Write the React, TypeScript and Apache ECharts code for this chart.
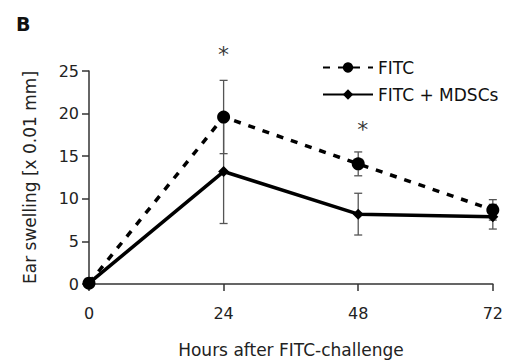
import React, { useEffect, useRef } from "react";
import * as echarts from "echarts";

const hours = [0, 24, 48, 72];
const fitcMean = [0.1, 19.6, 14.1, 8.7];
const fitcErr = [0, 4.3, 1.4, 1.2];
const mdscMean = [0.1, 13.2, 8.2, 7.9];
const mdscErr = [0, 6.1, 2.45, 1.45];
const starPoints = [[24, 27.2], [48.8, 18.4]];
const yTicks = { min: 0, max: 25, interval: 5 };
const xTicks = { min: 0, max: 72, interval: 24 };

const FONT = "'DejaVu Sans', 'Open Sans', sans-serif";

export default function App() {
  const ref = useRef<HTMLDivElement>(null);
  useEffect(() => {
    if (!ref.current) return;
    const chart = echarts.init(ref.current, undefined, { renderer: "svg" });
    const errData = (means: number[], errs: number[]) =>
      hours
        .map((h, i) => [h, means[i] - errs[i], means[i] + errs[i]])
        .filter((_, i) => errs[i] > 0);
    const errSeries = (name: string, means: number[], errs: number[]) => ({
      type: "custom",
      name,
      z: 1,
      silent: true,
      data: errData(means, errs),
      encode: { x: 0, y: [1, 2] },
      renderItem: (params: any, api: any) => {
        const x = api.value(0);
        const lo = api.coord([x, api.value(1)]);
        const hi = api.coord([x, api.value(2)]);
        const w = 4;
        const style = { stroke: "#555", lineWidth: 1.3 };
        return {
          type: "group",
          children: [
            { type: "line", shape: { x1: hi[0], y1: hi[1], x2: lo[0], y2: lo[1] }, style },
            { type: "line", shape: { x1: hi[0] - w, y1: hi[1], x2: hi[0] + w, y2: hi[1] }, style },
            { type: "line", shape: { x1: lo[0] - w, y1: lo[1], x2: lo[0] + w, y2: lo[1] }, style },
          ],
        };
      },
    });
    chart.setOption({
      animation: false,
      backgroundColor: "#fff",
      textStyle: { fontFamily: FONT },
      title: {
        text: "B",
        left: 11,
        top: 9,
        textStyle: { fontFamily: FONT, fontSize: 19, fontWeight: "bold", color: "#111" },
      },
      grid: { left: 89, right: 13, top: 71, bottom: 75, containLabel: false },
      legend: {
        orient: "vertical",
        left: 317,
        top: 54,
        itemWidth: 50,
        itemHeight: 13,
        itemGap: 10,
        data: ["FITC", "FITC + MDSCs"],
        textStyle: { fontFamily: FONT, fontSize: 17, color: "#111" },
      },
      xAxis: {
        type: "value",
        min: xTicks.min,
        max: xTicks.max,
        interval: xTicks.interval,
        name: "Hours after FITC-challenge",
        nameLocation: "middle",
        nameGap: 57,
        nameTextStyle: { fontFamily: FONT, fontSize: 17, color: "#222" },
        splitLine: { show: false },
        axisLine: { lineStyle: { color: "#333", width: 1.5 } },
        axisTick: { show: true, length: 7, lineStyle: { color: "#333", width: 1.5 } },
        axisLabel: { fontFamily: FONT, fontSize: 16, color: "#222", margin: 21 },
      },
      yAxis: {
        type: "value",
        min: yTicks.min,
        max: yTicks.max,
        interval: yTicks.interval,
        name: "Ear swelling [x 0.01 mm]",
        nameLocation: "middle",
        nameGap: 51,
        nameTextStyle: { fontFamily: FONT, fontSize: 17, color: "#222" },
        splitLine: { show: false },
        axisLine: { show: true, lineStyle: { color: "#333", width: 1.5 } },
        axisTick: { show: true, length: 7, lineStyle: { color: "#333", width: 1.5 } },
        axisLabel: { fontFamily: FONT, fontSize: 16, color: "#222", margin: 10 },
      },
      series: [
        errSeries("errFITC", fitcMean, fitcErr),
        errSeries("errMDSC", mdscMean, mdscErr),
        {
          type: "line",
          name: "FITC",
          z: 3,
          data: hours.map((h, i) => [h, fitcMean[i]]),
          symbol: "circle",
          symbolSize: 13,
          itemStyle: { color: "#000" },
          lineStyle: { color: "#000", width: 3.5, type: [7, 8] },
          clip: false,
        },
        {
          type: "line",
          name: "FITC + MDSCs",
          z: 4,
          data: hours.map((h, i) => [h, mdscMean[i]]),
          symbol: "diamond",
          symbolSize: 11,
          itemStyle: { color: "#000" },
          lineStyle: { color: "#000", width: 3.5 },
          clip: false,
        },
        {
          type: "scatter",
          name: "stars",
          symbolSize: 0,
          clip: false,
          silent: true,
          data: starPoints,
          label: {
            show: true,
            position: "inside",
            formatter: "*",
            fontFamily: FONT,
            fontSize: 22,
            color: "#000",
            offset: [0, 2],
          },
        },
      ],
    });
    return () => chart.dispose();
  }, []);
  return (
    <div
      ref={ref}
      style={{ width: 506, height: 363, position: "fixed", left: 0, top: 0 }}
    />
  );
}
